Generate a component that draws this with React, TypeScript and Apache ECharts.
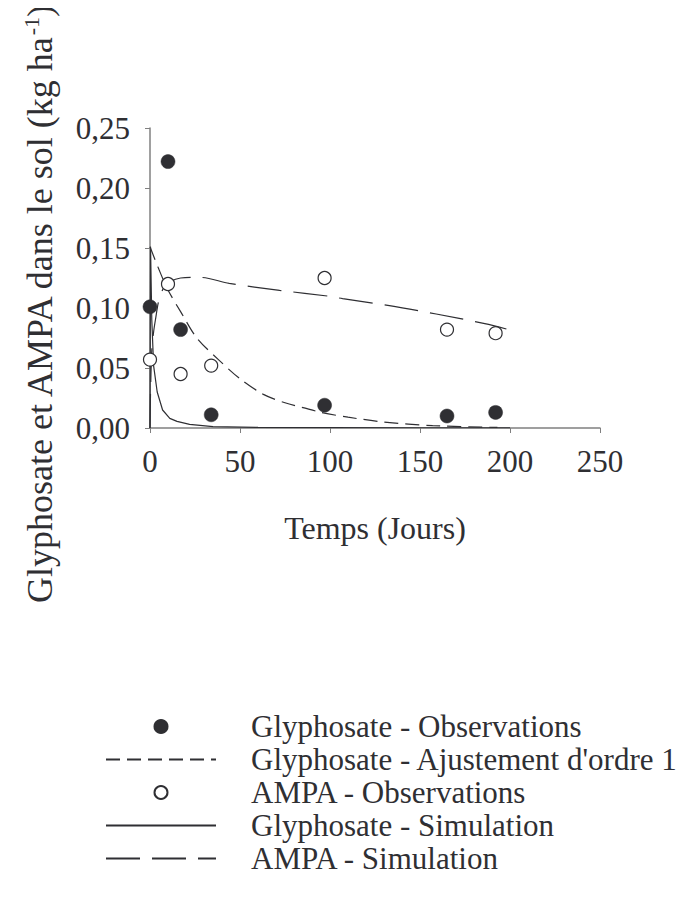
import React, { useEffect, useRef } from "react";
import * as echarts from "echarts";

// Time (days) / concentration (kg/ha) pairs
const glyphosateObs: number[][] = [
  [0, 0.101], [10, 0.222], [17, 0.082], [34, 0.011], [97, 0.019], [165, 0.010], [192, 0.013],
];
const ampaObs: number[][] = [
  [0, 0.057], [10, 0.120], [17, 0.045], [34, 0.052], [97, 0.125], [165, 0.082], [192, 0.079],
];
const glyphosateFit: number[][] = [
  [0, 0.151], [5, 0.132], [10, 0.115], [17, 0.097], [26, 0.075], [38, 0.057], [50, 0.041],
  [63, 0.028], [75, 0.021], [85, 0.017], [95, 0.013], [110, 0.009], [130, 0.005], [157, 0.002], [193, 0.0005],
];
const glyphosateSim: number[][] = [
  [0, 0], [0.3, 0.151], [1, 0.09], [2, 0.052], [4, 0.03], [7, 0.015], [11, 0.008], [15, 0.0055],
  [22, 0.003], [35, 0.0012], [60, 0.0005], [100, 0.0003], [150, 0.0002], [200, 0.0001],
];
const ampaSim: number[][] = [
  [0, 0], [0.3, 0.03], [1, 0.065], [2, 0.08], [3, 0.09], [5, 0.107], [8, 0.118], [11, 0.122],
  [17, 0.125], [28, 0.1255], [44, 0.1205], [72, 0.1147], [100, 0.1097], [107, 0.1078],
  [133, 0.102], [159, 0.095], [186, 0.087], [198, 0.0825],
];

const seriesNames = [
  "Glyphosate - Observations",
  "Glyphosate - Ajustement d'ordre 1",
  "AMPA - Observations",
  "Glyphosate - Simulation",
  "AMPA - Simulation",
];
const lineSeriesNames = [seriesNames[1], seriesNames[3], seriesNames[4]];

const xTitle = "Temps (Jours)";
const yTitleMain = "Glyphosate et AMPA dans le sol (kg ha";
const yTitleSup = "-1";

const FONT = "'Liberation Serif', 'Times New Roman', serif";
const INK = "#2f2f33";
const AXIS = "#808080";

export default function App() {
  const ref = useRef<HTMLDivElement>(null);
  useEffect(() => {
    if (!ref.current) return;
    const chart = echarts.init(ref.current, undefined, { renderer: "svg" });
    chart.setOption({
      animation: false,
      backgroundColor: "#ffffff",
      grid: { left: 150, top: 128, right: 90, bottom: 476, containLabel: false },
      xAxis: {
        type: "value",
        min: 0,
        max: 250,
        interval: 50,
        name: xTitle,
        nameLocation: "middle",
        nameGap: 84,
        nameTextStyle: { fontFamily: FONT, fontSize: 32, color: INK },
        axisLine: { lineStyle: { color: AXIS, width: 1.5 } },
        axisTick: { show: true, length: 5, lineStyle: { color: AXIS } },
        axisLabel: { fontFamily: FONT, fontSize: 31, color: INK, margin: 18 },
        splitLine: { show: false },
      },
      yAxis: {
        type: "value",
        min: 0,
        max: 0.25,
        interval: 0.05,
        axisLine: { show: true, lineStyle: { color: AXIS, width: 1.5 } },
        axisTick: { show: true, length: 5, lineStyle: { color: AXIS } },
        axisLabel: {
          fontFamily: FONT,
          fontSize: 31,
          color: INK,
          margin: 20,
          formatter: (v: number) => v.toFixed(2).replace(".", ","),
        },
        splitLine: { show: false },
      },
      legend: {
        orient: "vertical",
        left: 100,
        top: 705,
        itemWidth: 110,
        itemHeight: 13,
        itemGap: 0,
        data: seriesNames.map((n) =>
          lineSeriesNames.includes(n) ? { name: n, itemStyle: { opacity: 0 } } : { name: n }
        ),
        textStyle: {
          fontFamily: FONT,
          fontSize: 31,
          color: INK,
          lineHeight: 33,
          padding: [0, 0, 0, 30],
        },
      },
      graphic: [
        {
          type: "text",
          x: 40,
          y: 305,
          rotation: Math.PI / 2,
          style: {
            text: `{a|${yTitleMain}}{s|${yTitleSup}}{a|)}`,
            align: "center",
            verticalAlign: "middle",
            fill: INK,
            rich: {
              a: { fontFamily: FONT, fontSize: 36, fill: INK, lineHeight: 40 },
              s: { fontFamily: FONT, fontSize: 22, fill: INK, verticalAlign: "top", lineHeight: 40, padding: [0, 0, 16, 0] },
            },
          },
        },
      ],
      series: [
        {
          name: seriesNames[0],
          type: "scatter",
          data: glyphosateObs,
          symbol: "circle",
          symbolSize: 14,
          itemStyle: { color: INK, borderColor: INK, borderWidth: 0.5, opacity: 1 },
          z: 5,
        },
        {
          name: seriesNames[1],
          type: "line",
          data: glyphosateFit,
          symbol: "none",
          smooth: 0.3,
          lineStyle: { color: INK, width: 1.2, type: [14, 7] },
          itemStyle: { color: INK },
          z: 3,
        },
        {
          name: seriesNames[2],
          type: "scatter",
          data: ampaObs,
          symbol: "circle",
          symbolSize: 13,
          itemStyle: { color: "#ffffff", borderColor: INK, borderWidth: 1.2, opacity: 1 },
          z: 6,
        },
        {
          name: seriesNames[3],
          type: "line",
          data: glyphosateSim,
          symbol: "none",
          lineStyle: { color: INK, width: 1.2, type: "solid" },
          itemStyle: { color: INK },
          z: 3,
        },
        {
          name: seriesNames[4],
          type: "line",
          data: ampaSim,
          symbol: "none",
          smooth: 0.3,
          lineStyle: { color: INK, width: 1.2, type: [34, 12] },
          itemStyle: { color: INK },
          z: 3,
        },
      ],
    });
    return () => chart.dispose();
  }, []);
  return <div ref={ref} style={{ width: 690, height: 904, margin: -8 }} />;
}
